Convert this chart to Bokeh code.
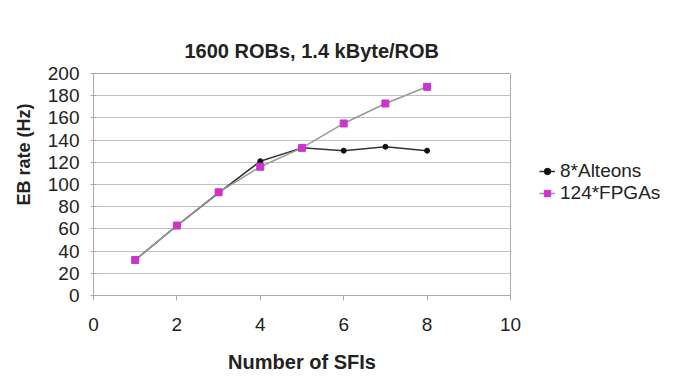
from bokeh.plotting import figure
from bokeh.layouts import row
from bokeh.models import Range1d, Legend, LegendItem, Title, FixedTicker
from bokeh.embed import file_html
from bokeh.resources import INLINE

sfis = [1, 2, 3, 4, 5, 6, 7, 8]
alteons = [32, 63, 92.5, 121, 133, 130.5, 134, 130.5]
fpgas = [32, 63, 93, 116, 133, 155, 173, 188]
x_ticks = [0, 2, 4, 6, 8, 10]
y_ticks = list(range(0, 201, 20))
series_names = ["8*Alteons", "124*FPGAs"]

FONT = "Liberation Sans"

p = figure(width=530, height=377, output_backend="svg", toolbar_location=None,
           x_range=Range1d(0, 10), y_range=Range1d(0, 200),
           min_border_left=92, min_border_right=20, min_border_top=73, min_border_bottom=82)
p.background_fill_color = "white"
p.border_fill_color = "white"
p.outline_line_color = "#aaaaaa"

p.title = Title(text="1600 ROBs, 1.4 kByte/ROB", align="left", offset=91,
                text_font=FONT, text_font_size="20px", text_font_style="bold",
                text_color="#222222", standoff=24)

p.xgrid.visible = False
p.ygrid.grid_line_color = "#c0c0c0"
p.ygrid.ticker = FixedTicker(ticks=y_ticks)

for ax in (p.xaxis[0], p.yaxis[0]):
    ax.axis_line_color = "#aaaaaa"
    ax.major_tick_line_color = "#aaaaaa"
    ax.minor_tick_line_color = None
    ax.major_label_text_font = FONT
    ax.major_label_text_font_size = "19px"
    ax.major_label_text_color = "#222222"
    ax.axis_label_text_font = FONT
    ax.axis_label_text_font_size = "20px"
    ax.axis_label_text_font_style = "bold"
    ax.axis_label_text_color = "#222222"

p.xaxis.ticker = FixedTicker(ticks=x_ticks)
p.yaxis.ticker = FixedTicker(ticks=y_ticks)
p.xaxis.major_tick_out = 5
p.xaxis.major_tick_in = 0
p.yaxis.major_tick_out = 3
p.yaxis.major_tick_in = 3
p.xaxis.major_label_standoff = 17
p.yaxis.major_label_standoff = 11
p.xaxis.axis_label = "Number of SFIs"
p.xaxis.axis_label_standoff = 17

ylab = Title(text="EB rate (Hz)", align="left", offset=90, text_font=FONT,
             text_font_size="18px", text_font_style="bold", text_color="#222222",
             standoff=22)
p.add_layout(ylab, "left")

l1 = p.line(sfis, alteons, line_color="#333333", line_width=1.5)
m1 = p.scatter(sfis, alteons, marker="circle", size=5, fill_color="#111111", line_color="#111111")
l2 = p.line(sfis, fpgas, line_color="#999999", line_width=1.5)
m2 = p.scatter(sfis, fpgas, marker="square", size=7, fill_color="#cc33cc", line_color="#cc33cc")

# legend in a companion panel to the right of the plot (its ranges keep the data out of view)
q = figure(width=145, height=377, output_backend="svg", toolbar_location=None,
           x_range=Range1d(100, 101), y_range=Range1d(1000, 1001),
           min_border_left=0, min_border_right=0, min_border_top=0, min_border_bottom=0)
q.axis.visible = False
q.grid.visible = False
q.outline_line_color = None
q.background_fill_color = "white"
q.border_fill_color = "white"
ql1 = q.line(sfis, alteons, line_color="#333333", line_width=1.5)
qm1 = q.scatter(sfis, alteons, marker="circle", size=4, fill_color="#111111", line_color="#111111")
ql2 = q.line(sfis, fpgas, line_color="#999999", line_width=1.5)
qm2 = q.scatter(sfis, fpgas, marker="square", size=6, fill_color="#cc33cc", line_color="#cc33cc")

legend = Legend(items=[LegendItem(label=series_names[0], renderers=[ql1, qm1]),
                       LegendItem(label=series_names[1], renderers=[ql2, qm2])],
                location=(9, 91), label_text_font=FONT, label_text_font_size="19px",
                label_text_color="#222222", border_line_color=None, background_fill_alpha=0,
                glyph_width=16, glyph_height=18, label_height=18, label_standoff=5,
                spacing=0, padding=4, margin=0)
q.add_layout(legend, "center")

open("out.html", "w").write(file_html(row(p, q), INLINE))
